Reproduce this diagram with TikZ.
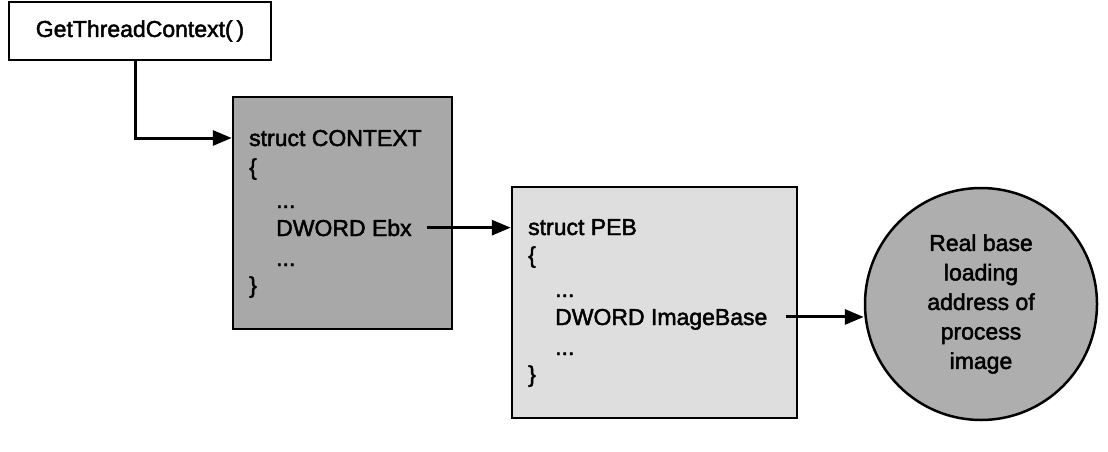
\documentclass[tikz,border=0pt]{standalone}
\usepackage{fontspec}
\setmainfont{Liberation Sans}
\newfontfamily\medfont[FakeBold=2]{Liberation Sans}
\usetikzlibrary{arrows.meta}
\definecolor{ctxgray}{HTML}{A8A8A8}
\definecolor{pebgray}{HTML}{DEDEDE}
\definecolor{circgray}{HTML}{AEAEAE}
\begin{document}
\begin{tikzpicture}[x=1pt,y=-1pt,
  every node/.style={font=\medfont\fontsize{23}{29.5}\selectfont},
  box/.style={draw=black, line width=2.5pt, inner sep=0pt},
  txt/.style={anchor=base west, inner sep=0pt},
  fld/.style={anchor=base west, inner sep=0pt, text depth=0pt},
  arr/.style={line width=3pt, -{Triangle[length=19pt,width=15pt]}}]
\useasboundingbox (0,0) rectangle (1108,452);
% boxes
\node[box, fill=white, minimum width=262pt, minimum height=58pt] (gtc) at (140,31) {GetThreadContext(\,)};
\node[box, fill=ctxgray, minimum width=219pt, minimum height=232pt] (ctx) at (342.5,213) {};
\node[box, fill=pebgray, minimum width=285pt, minimum height=231pt] (peb) at (654.5,302.5) {};
\node[box, circle, fill=circgray, minimum size=232pt, align=center] (circ) at (981,304) {Real base\\loading\\address of\\process\\image};
% CONTEXT text
\node[txt] (c1) at (249,146) {struct CONTEXT};
\node[txt] (c2) at (249,175) {\{};
\node[txt] (c3) at (276,208) {...};
\node[fld] (ebx) at (276,236) {DWORD Ebx};
\node[txt] (c5) at (276,266) {...};
\node[txt] (c6) at (249,293) {\}};
% PEB text
\node[txt] (p1) at (528,235) {struct PEB};
\node[txt] (p2) at (528,263) {\{};
\node[txt] (p3) at (555,297) {...};
\node[fld] (ib) at (555,325) {DWORD ImageBase};
\node[txt] (p5) at (555,355) {...};
\node[txt] (p6) at (528,382) {\}};
% connectors
\draw[arr] ([xshift=-5pt]gtc.south) |- ([yshift=75pt]ctx.west);
\draw[arr] ([xshift=15pt]ebx.east) -- (peb.west |- ebx.center);
\draw[arr] ([xshift=18pt]ib.east) -- (circ.west |- ib.center);
\end{tikzpicture}
\end{document}
